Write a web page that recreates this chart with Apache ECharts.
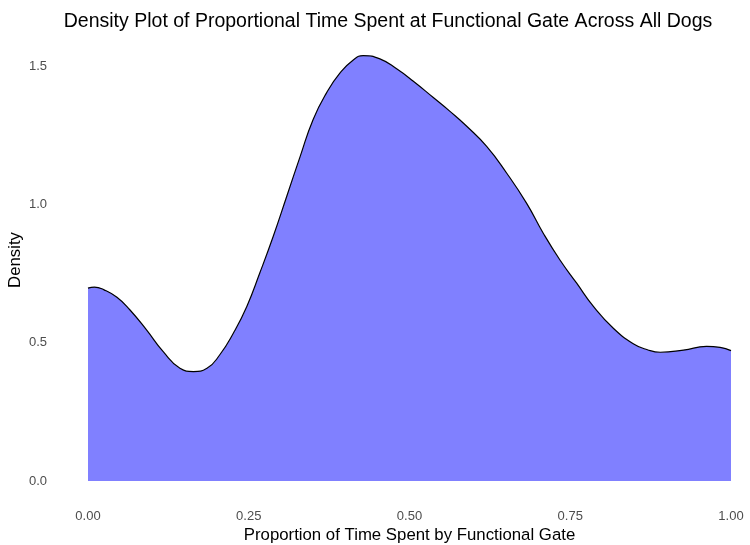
<!DOCTYPE html>
<html>
<head lang="en">
    <meta charset="UTF-8">
    <title>Density Plot</title>
    <script type="text/javascript" src="https://cdn.jsdelivr.net/npm/echarts@6/dist/echarts.min.js"></script>
    <style>
        html, body { margin: 0; padding: 0; background: #fff; }
        #densityChart { width: 750px; height: 545px; }
    </style>
</head>
<body>
<div id="densityChart"></div>

<script type="text/javascript">
    // proportion of time (x) and estimated density (y)
    var propX = [0.000, 0.010, 0.025, 0.045, 0.065, 0.091, 0.117, 0.143, 0.164, 0.185,
                 0.205, 0.226, 0.247, 0.267, 0.288, 0.309, 0.330, 0.350, 0.371, 0.392,
                 0.413, 0.428, 0.454, 0.480, 0.506, 0.537, 0.563, 0.589, 0.620, 0.651,
                 0.682, 0.708, 0.734, 0.760, 0.786, 0.817, 0.848, 0.870, 0.890, 0.926,
                 0.962, 0.983, 1.000];
    var densityY = [0.698, 0.702, 0.692, 0.665, 0.620, 0.547, 0.468, 0.408, 0.396, 0.408,
                    0.457, 0.535, 0.632, 0.752, 0.885, 1.030, 1.175, 1.308, 1.405, 1.477,
                    1.525, 1.540, 1.528, 1.492, 1.447, 1.388, 1.338, 1.284, 1.211, 1.115,
                    1.006, 0.897, 0.800, 0.716, 0.632, 0.553, 0.497, 0.475, 0.466, 0.474,
                    0.487, 0.484, 0.472];
    var xTicks = [0, 0.25, 0.5, 0.75, 1];
    var yTicks = [0, 0.5, 1, 1.5];

    var points = [];
    for (var i = 0; i < propX.length; i++) {
        points.push([propX[i], densityY[i]]);
    }

    var labelFont = 'Liberation Sans, Arial, sans-serif';
    var densityChart = echarts.init(document.getElementById('densityChart'));
    densityChart.setOption({
        animation: false,
        title: {
            text: 'Density Plot of Proportional Time Spent at Functional Gate Across All Dogs',
            left: 383,
            top: 7,
            textAlign: 'center',
            textStyle: {
                fontFamily: labelFont,
                fontSize: 19.5,
                fontWeight: 'normal',
                color: '#000'
            }
        },
        grid: {
            left: 88,
            right: 19,
            top: 39,
            bottom: 64,
            outerBoundsMode: 'none'
        },
        xAxis: {
            type: 'value',
            min: 0,
            max: 1,
            interval: 0.25,
            name: 'Proportion of Time Spent by Functional Gate',
            nameLocation: 'middle',
            nameGap: 46,
            nameMoveOverlap: false,
            nameTextStyle: {fontFamily: labelFont, fontSize: 16.8, color: '#000'},
            axisLine: {show: false},
            axisTick: {show: false},
            splitLine: {show: false},
            axisLabel: {
                margin: 29,
                fontFamily: labelFont,
                fontSize: 13,
                color: '#4d4d4d',
                formatter: function (v) {
                    return xTicks.indexOf(v) >= 0 ? v.toFixed(2) : '';
                }
            }
        },
        yAxis: {
            type: 'value',
            min: 0,
            max: 1.6,
            interval: 0.5,
            name: 'Density',
            nameLocation: 'middle',
            nameGap: 64,
            nameMoveOverlap: false,
            nameTextStyle: {fontFamily: labelFont, fontSize: 16.8, color: '#000'},
            axisLine: {show: false},
            axisTick: {show: false},
            splitLine: {show: false},
            axisLabel: {
                margin: 41,
                fontFamily: labelFont,
                fontSize: 13,
                color: '#4d4d4d',
                formatter: function (v) {
                    return yTicks.indexOf(v) >= 0 ? v.toFixed(1) : '';
                }
            }
        },
        series: [{
            type: 'line',
            data: points,
            smooth: 0.5,
            showSymbol: false,
            lineStyle: {color: '#000', width: 1.2},
            areaStyle: {color: '#8080ff', opacity: 1}
        }]
    });
</script>
</body>
</html>
